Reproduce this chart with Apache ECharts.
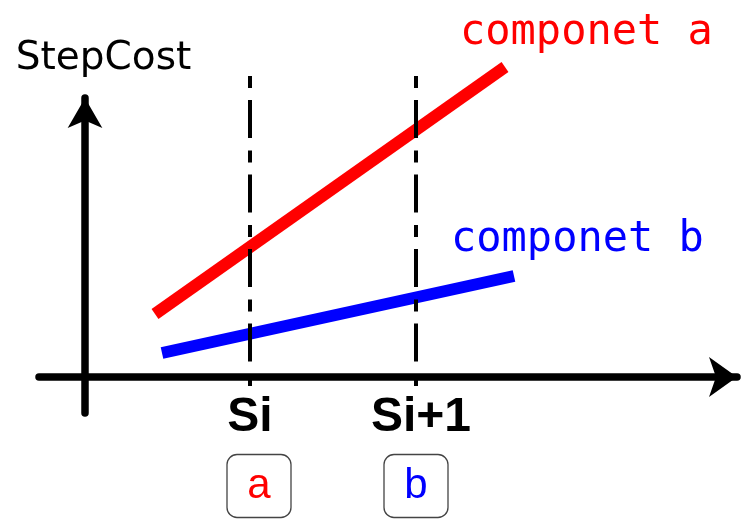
<!DOCTYPE html>
<html>
<head>
<meta charset="utf-8">
<script src="https://cdn.jsdelivr.net/npm/echarts@6/dist/echarts.min.js"></script>
<style>
  html, body { margin: 0; padding: 0; background: #fff; }
  #chart { width: 743px; height: 520px; }
</style>
</head>
<body>
<div id="chart"></div>
<script>
// step positions on the x axis and their labels
const stepValues = [165, 331];
const stepLabels = ['Si', 'Si+1'];
const boxLabels = ['a', 'b'];

// componet a / componet b cost lines (start and end points)
const costA = [[70, 63], [420, 310]];
const costB = [[77, 24], [429, 101]];

// vertical dashed guides at each step
const guideTop = 301;
const guideBottom = -9;

const chart = echarts.init(document.getElementById('chart'));

const guides = stepValues.map(function (x) {
    return {
        type: 'line',
        data: [[x, guideTop], [x, guideBottom]],
        symbol: 'none',
        clip: false,
        lineStyle: { color: '#000', width: 4, type: [12, 12, 38, 12.5] },
        z: 5
    };
});

const boxStyle = {
    width: 64,
    height: 63,
    lineHeight: 66,
    borderColor: '#444',
    borderWidth: 1.3,
    borderRadius: 10,
    align: 'center',
    fontSize: 42,
    fontFamily: 'Liberation Sans'
};

chart.setOption({
    animation: false,
    grid: { left: 39, right: 6, top: 98, bottom: 107, containLabel: false, outerBoundsMode: 'none' },
    xAxis: {
        type: 'value',
        min: -46,
        max: 652,
        splitLine: { show: false },
        axisTick: { show: false },
        axisLine: {
            onZero: true,
            symbol: ['none', 'arrow'],
            symbolSize: [30, 28],
            lineStyle: { color: '#000', width: 7.5 }
        },
        axisLabel: {
            customValues: stepValues,
            margin: -30,
            formatter: function (v) {
                const i = stepValues.indexOf(v);
                const sp = i === 0 ? '{sp|}' : '';
                const lead = i === 1 ? '{sp2|}' : '';
                return lead + '{s|' + stepLabels[i] + '}\n' + sp + '{' + boxLabels[i] + '|' + boxLabels[i] + '}';
            },
            rich: {
                s: { fontFamily: 'Liberation Sans', fontWeight: 'bold', fontSize: 48, color: '#000', lineHeight: 70, align: 'center' },
                sp: { width: 18, align: 'center' },
                sp2: { width: 10, align: 'center' },
                a: Object.assign({}, boxStyle, { color: '#ff0000' }),
                b: Object.assign({}, boxStyle, { color: '#0000ff' })
            }
        }
    },
    yAxis: {
        type: 'value',
        min: -36,
        max: 279,
        splitLine: { show: false },
        axisTick: { show: false },
        axisLabel: { show: false },
        name: 'StepCost',
        nameLocation: 'end',
        nameGap: 20,
        nameTextStyle: {
            fontFamily: 'DejaVu Sans',
            fontSize: 39,
            color: '#000',
            padding: [0, 0, 0, 37]
        },
        axisLine: {
            onZero: true,
            symbol: ['none', 'arrow'],
            symbolSize: [26, 30],
            lineStyle: { color: '#000', width: 7.5 }
        }
    },
    graphic: [
        {
            type: 'text',
            left: 460,
            top: 12,
            style: { text: 'componet a', font: '42px "DejaVu Sans Mono"', fill: '#ff0000' }
        },
        {
            type: 'text',
            left: 451,
            top: 219,
            style: { text: 'componet b', font: '42px "DejaVu Sans Mono"', fill: '#0000ff' }
        }
    ],
    series: [
        {
            name: 'componet a',
            type: 'line',
            data: costA,
            symbol: 'none',
            clip: false,
            lineStyle: { color: '#ff0000', width: 12 }
        },
        {
            name: 'componet b',
            type: 'line',
            data: costB,
            symbol: 'none',
            clip: false,
            lineStyle: { color: '#0000ff', width: 12 }
        }
    ].concat(guides)
});
</script>
</body>
</html>
